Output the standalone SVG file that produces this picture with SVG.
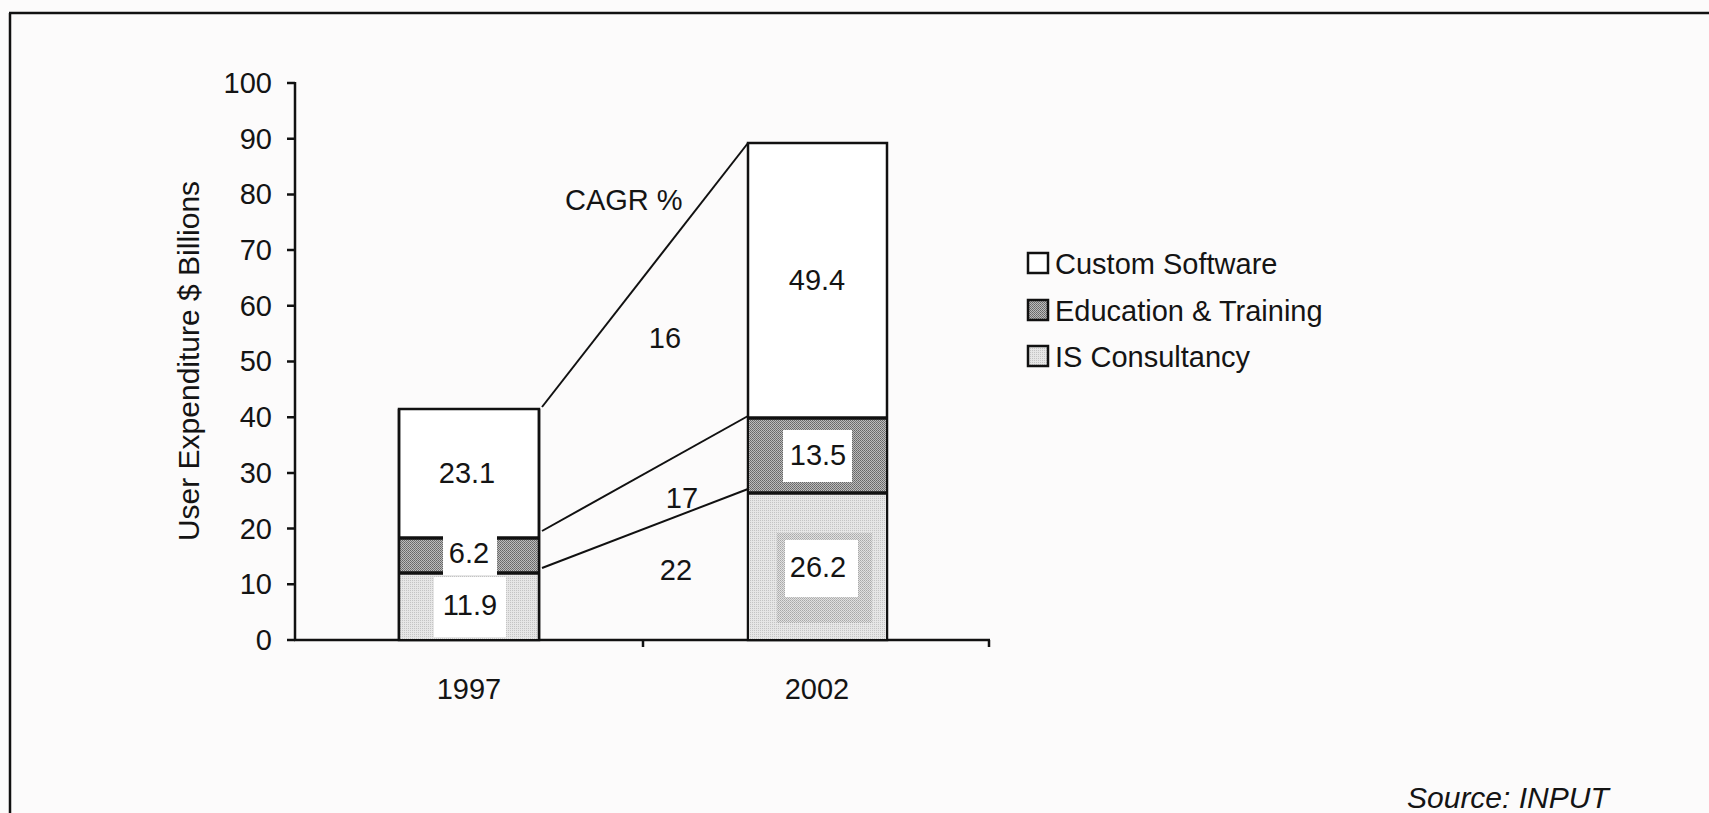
<svg xmlns="http://www.w3.org/2000/svg" width="1709" height="813" viewBox="0 0 1709 813">
<style>
text{font-family:"Liberation Sans",Arial,Helvetica,sans-serif;fill:#141414;font-size:29px}
.c{text-anchor:middle}
.r{text-anchor:end}
.ax{stroke:#111;stroke-width:2.5;fill:none}
.bar{stroke:#111;stroke-width:2.5}
.sep{stroke:#111;stroke-width:3.5}
.conn{stroke:#111;stroke-width:2;fill:none}
</style>
<defs>
<pattern id="dark" width="2" height="2" patternUnits="userSpaceOnUse">
<rect width="2" height="2" fill="#bcbcbc"/>
<rect width="1" height="1" fill="#666"/>
<rect x="1" y="1" width="1" height="1" fill="#747474"/>
</pattern>
<pattern id="light" width="2" height="2" patternUnits="userSpaceOnUse">
<rect width="2" height="2" fill="#e6e6e6"/>
<rect width="1" height="1" fill="#c4c4c4"/>
</pattern>
<pattern id="mid" width="2" height="2" patternUnits="userSpaceOnUse">
<rect width="2" height="2" fill="#e0e0e0"/>
<rect width="1" height="1" fill="#a8a8a8"/>
<rect x="1" y="1" width="1" height="1" fill="#b8b8b8"/>
</pattern>
</defs>
<rect width="1709" height="813" fill="#fcfbfb"/>
<g id="frame">
<line x1="10" y1="13" x2="10" y2="813" class="ax"/>
<line x1="9" y1="13" x2="1709" y2="13" class="ax"/>
</g>
<g id="axes">
<line x1="295" y1="82" x2="295" y2="640" class="ax"/>
<line x1="294" y1="640" x2="990" y2="640" class="ax"/>
<path class="ax" d="M287 83H295M287 138.7H295M287 194.4H295M287 250.1H295M287 305.8H295M287 361.5H295M287 417.2H295M287 472.9H295M287 528.6H295M287 584.3H295M287 640H295M643 640V647M989 640V647"/>
<text class="r" x="272" y="93">100</text>
<text class="r" x="272" y="149">90</text>
<text class="r" x="272" y="204">80</text>
<text class="r" x="272" y="260">70</text>
<text class="r" x="272" y="316">60</text>
<text class="r" x="272" y="371">50</text>
<text class="r" x="272" y="427">40</text>
<text class="r" x="272" y="483">30</text>
<text class="r" x="272" y="539">20</text>
<text class="r" x="272" y="594">10</text>
<text class="r" x="272" y="650">0</text>
<text class="c" transform="translate(199,361) rotate(-90)" style="font-size:30px">User Expenditure $ Billions</text>
<text class="c" x="469" y="699">1997</text>
<text class="c" x="817" y="699">2002</text>
</g>
<g id="bar1997">
<rect x="399" y="409" width="140" height="231" fill="#fff" class="bar"/>
<rect x="400" y="573" width="138" height="66" fill="url(#light)"/>
<rect x="434" y="577" width="72" height="60" fill="#fff"/>
<rect x="400" y="538" width="138" height="35" fill="url(#dark)"/>
<line x1="399" y1="538" x2="443" y2="538" class="sep"/>
<line x1="497" y1="538" x2="539" y2="538" class="sep"/>
<line x1="399" y1="573" x2="443" y2="573" class="sep"/>
<line x1="497" y1="573" x2="539" y2="573" class="sep"/>
<rect x="443" y="536" width="54" height="39" fill="#fff"/>
<line x1="399" y1="409" x2="399" y2="640" class="bar"/>
<line x1="539" y1="409" x2="539" y2="640" class="bar"/>
<text class="c" x="467" y="483">23.1</text>
<text class="c" x="469" y="563">6.2</text>
<text class="c" x="470" y="615">11.9</text>
</g>
<g id="bar2002">
<rect x="748" y="143" width="139" height="497" fill="#fff" class="bar"/>
<rect x="749" y="493" width="137" height="146" fill="url(#light)"/>
<rect x="777" y="533" width="95" height="90" fill="url(#mid)"/>
<rect x="785" y="540" width="73" height="57" fill="#fff"/>
<rect x="749" y="418" width="137" height="75" fill="url(#dark)"/>
<rect x="783" y="430" width="69" height="52" fill="#fff"/>
<line x1="748" y1="418" x2="887" y2="418" class="sep"/>
<line x1="748" y1="493" x2="887" y2="493" class="sep"/>
<text class="c" x="817" y="290">49.4</text>
<text class="c" x="818" y="465">13.5</text>
<text class="c" x="818" y="577">26.2</text>
</g>
<g id="connectors">
<line x1="542" y1="407" x2="748" y2="143" class="conn"/>
<line x1="542" y1="531" x2="748" y2="416" class="conn"/>
<line x1="542" y1="568" x2="748" y2="489" class="conn"/>
</g>
<g id="cagr">
<text x="565" y="210">CAGR %</text>
<text class="c" x="665" y="348">16</text>
<text class="c" x="682" y="508">17</text>
<text class="c" x="676" y="580">22</text>
</g>
<g id="legend">
<rect x="1028" y="253" width="20" height="20" fill="#fff" class="bar"/>
<text x="1055" y="274">Custom Software</text>
<rect x="1028" y="300" width="20" height="20" fill="url(#dark)" class="bar"/>
<text x="1055" y="321">Education &amp; Training</text>
<rect x="1028" y="346" width="20" height="20" fill="url(#light)" class="bar"/>
<text x="1055" y="367">IS Consultancy</text>
</g>
<text x="1407" y="808" style="font-style:italic;font-size:30px">Source: INPUT</text>
</svg>
